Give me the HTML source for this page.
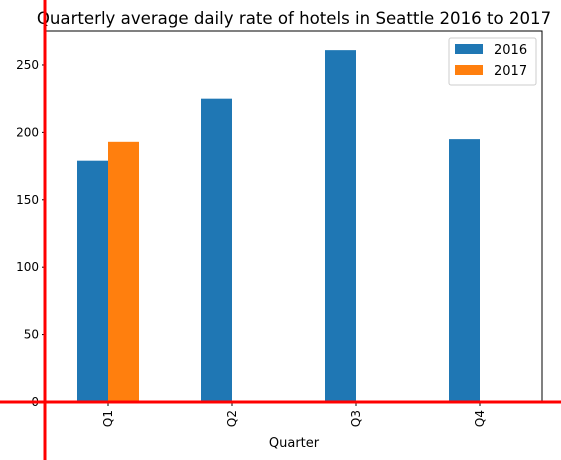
<!DOCTYPE html>
<html><head><meta charset="utf-8"><style>body{margin:0;background:#fff}svg{display:block;font-family:"DejaVu Sans","Liberation Sans",sans-serif}</style></head>
<body>
<svg id="chart" width="561" height="460" xmlns="http://www.w3.org/2000/svg">
<text x="294" y="24" font-size="16.6" text-anchor="middle">Quarterly average daily rate of hotels in Seattle 2016 to 2017</text>
<rect x="46" y="31" width="496" height="371" fill="none" stroke="#000" stroke-width="1"/>
<g id="bars"></g><g id="yticks"></g><g id="xticks"></g>
<text x="294" y="447" font-size="13" text-anchor="middle">Quarter</text>
<g>
<rect x="449" y="38" width="87" height="47" fill="#fff" stroke="#ccc" rx="2"/>
<rect x="455" y="44" width="28" height="10" fill="#1f77b4"/>
<text x="494" y="54" font-size="13">2016</text>
<rect x="455" y="65" width="28" height="10" fill="#ff7f0e"/>
<text x="494" y="75" font-size="13">2017</text>
</g>
<line x1="45" y1="0" x2="45" y2="460" stroke="#ff0000" stroke-width="3"/>
<line x1="0" y1="402" x2="561" y2="402" stroke="#ff0000" stroke-width="3"/>
</svg>
<script>
const categories=["Q1","Q2","Q3","Q4"];
const series2016=[179,225,261,195];
const series2017=[193,0,0,0];
const yTicks=[0,50,100,150,200,250];
const NS="http://www.w3.org/2000/svg";
const y=v=>402-v*(371/275.2);
const xc=i=>108+i*124;
const bw=31;
function mk(t,a,p){const e=document.createElementNS(NS,t);for(const k in a)e.setAttribute(k,a[k]);p.appendChild(e);return e;}
const bars=document.getElementById('bars'),yt=document.getElementById('yticks'),xt=document.getElementById('xticks');
categories.forEach((c,i)=>{
 [[series2016,'#1f77b4',-bw,'2016'],[series2017,'#ff7f0e',0,'2017']].forEach(([s,col,off,n])=>{
  const v=s[i]; if(!v) return;
  const r=mk('rect',{x:xc(i)+off,y:y(v),width:bw,height:402-y(v),fill:col},bars);
  
  
 });
 mk('line',{x1:xc(i),x2:xc(i),y1:402,y2:406,stroke:'#000'},xt);
 const t=mk('text',{x:0,y:0,'font-size':12,'text-anchor':'end',transform:`translate(${xc(i)+4},410) rotate(-90)`},xt);
 t.textContent=c;
 
 
});
yTicks.forEach(v=>{
 mk('line',{x1:42,x2:46,y1:y(v),y2:y(v),stroke:'#000'},yt);
 const t=mk('text',{x:39,y:y(v)+4,'font-size':12,'text-anchor':'end'},yt);
 t.textContent=v;
 
 
});
</script>
</body></html>
